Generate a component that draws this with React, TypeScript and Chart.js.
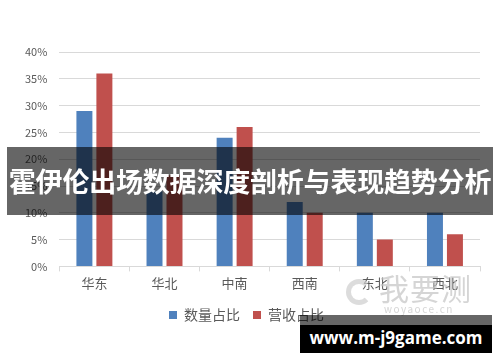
import React, { useEffect, useRef } from "react";
import { Chart, registerables } from "chart.js";

Chart.register(...registerables);

const categories = ["华东", "华北", "中南", "西南", "东北", "西北"];
const quantityShare = [29, 14, 24, 12, 10, 10];
const revenueShare = [36, 17, 26, 10, 5, 6];
const seriesNames = ["数量占比", "营收占比"];
const bannerTitle = "霍伊伦出场数据深度剖析与表现趋势分析";
const siteText = "www.m-j9game.com";

const FONT = "'Noto Sans CJK SC', 'Noto Sans', sans-serif";

export default function App() {
  const ref = useRef<HTMLCanvasElement | null>(null);

  useEffect(() => {
    if (!ref.current) return;
    const chart = new Chart(ref.current, {
      type: "bar",
      data: {
        labels: categories,
        datasets: [
          {
            label: seriesNames[0],
            data: quantityShare,
            backgroundColor: "#4F81BD",
            categoryPercentage: 0.57,
            barPercentage: 0.8,
          },
          {
            label: seriesNames[1],
            data: revenueShare,
            backgroundColor: "#C0504D",
            categoryPercentage: 0.57,
            barPercentage: 0.8,
          },
        ],
      },
      options: {
        animation: false,
        responsive: false,
        maintainAspectRatio: false,
        layout: { padding: { top: 52, left: 13, right: 20, bottom: 30 } },
        plugins: {
          tooltip: { enabled: false },
          legend: {
            position: "bottom",
            labels: {
              boxWidth: 8,
              boxHeight: 8,
              padding: 13,
              color: "#595959",
              font: { family: FONT, size: 14 },
            },
          },
        },
        scales: {
          x: {
            grid: {
              drawOnChartArea: false,
              drawTicks: true,
              tickLength: 5,
              color: "#d9d9d9",
              offset: true,
            },
            border: { color: "#d9d9d9" },
            ticks: {
              color: "#595959",
              padding: 4,
              font: { family: FONT, size: 13 },
            },
          },
          y: {
            min: 0,
            max: 40,
            grid: { color: "#d9d9d9", drawTicks: false },
            border: { display: false },
            ticks: {
              stepSize: 5,
              padding: 12,
              color: "#595959",
              font: { family: FONT, size: 11 },
              callback: (v: any) => v + "%",
            },
          },
        },
      },
    });
    return () => chart.destroy();
  }, []);

  return (
    <div style={{ position: "absolute", left: 0, top: 0, width: 500, height: 362, background: "#fff", overflow: "hidden" }}>
      <canvas ref={ref} width={500} height={362} style={{ position: "absolute", left: 0, top: 0 }} />
      <div
        style={{
          position: "absolute",
          left: 346,
          top: 276,
          width: 150,
          height: 40,
          color: "rgba(195,195,195,0.7)",
          fontFamily: FONT,
          pointerEvents: "none",
        }}
      >
        <div
          style={{
            position: "absolute",
            left: 0,
            top: 3,
            width: 26,
            height: 26,
            borderRadius: "50%",
            border: "5px solid rgba(205,205,205,0.7)",
            borderRightColor: "transparent",
            boxSizing: "border-box",
          }}
        />
        <div style={{ position: "absolute", left: 33, top: -7, fontSize: 30, lineHeight: "36px", letterSpacing: 1 }}>我要测</div>
        <div style={{ position: "absolute", left: 38, top: 27, fontSize: 10, lineHeight: "12px", letterSpacing: 1.5 }}>woyaoce.cn</div>
      </div>
      <div
        style={{
          position: "absolute",
          left: 7,
          top: 147,
          width: 486,
          height: 68,
          background: "rgba(0,0,0,0.6)",
          color: "#fff",
          fontFamily: FONT,
          fontWeight: 700,
          fontSize: 27,
          lineHeight: "68px",
          textAlign: "center",
          whiteSpace: "nowrap",
          letterSpacing: -0.2,
        }}
      >
        {bannerTitle}
      </div>
      <div style={{ position: "absolute", left: 300, top: 315, width: 192, height: 10, background: "rgba(0,0,0,0.6)" }} />
      <div
        style={{
          position: "absolute",
          left: 300,
          top: 325,
          width: 192,
          height: 28,
          background: "#000",
          color: "#fff",
          fontFamily: "'Open Sans', 'DejaVu Sans', sans-serif",
          fontWeight: 700,
          fontSize: 17,
          lineHeight: "26px",
          textAlign: "center",
          whiteSpace: "nowrap",
        }}
      >
        {siteText}
      </div>
    </div>
  );
}
